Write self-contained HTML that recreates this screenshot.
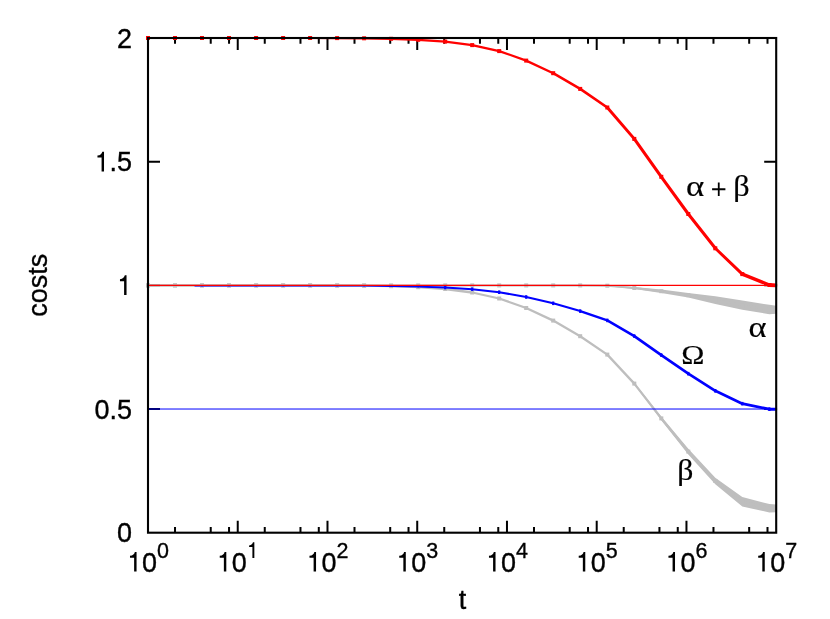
<!DOCTYPE html>
<html><head><meta charset="utf-8"><title>costs</title>
<style>html,body{margin:0;padding:0;background:#fff}svg{display:block;will-change:transform;opacity:0.999}</style>
</head><body>
<svg width="830" height="619" viewBox="0 0 830 619">
<rect width="830" height="619" fill="#fff"/>
<path d="M175.02 532.7v-5.8M175.02 38.0v5.8M210.73 532.7v-5.8M210.73 38.0v5.8M229.05 532.7v-5.8M229.05 38.0v5.8M237.74 532.7v-12M237.74 38.0v12M264.76 532.7v-5.8M264.76 38.0v5.8M300.47 532.7v-5.8M300.47 38.0v5.8M318.79 532.7v-5.8M318.79 38.0v5.8M327.49 532.7v-12M327.49 38.0v12M354.50 532.7v-5.8M354.50 38.0v5.8M390.21 532.7v-5.8M390.21 38.0v5.8M408.53 532.7v-5.8M408.53 38.0v5.8M417.23 532.7v-12M417.23 38.0v12M444.24 532.7v-5.8M444.24 38.0v5.8M479.96 532.7v-5.8M479.96 38.0v5.8M498.27 532.7v-5.8M498.27 38.0v5.8M506.97 532.7v-12M506.97 38.0v12M533.99 532.7v-5.8M533.99 38.0v5.8M569.70 532.7v-5.8M569.70 38.0v5.8M588.02 532.7v-5.8M588.02 38.0v5.8M596.71 532.7v-12M596.71 38.0v12M623.73 532.7v-5.8M623.73 38.0v5.8M659.44 532.7v-5.8M659.44 38.0v5.8M677.76 532.7v-5.8M677.76 38.0v5.8M686.46 532.7v-12M686.46 38.0v12M713.47 532.7v-5.8M713.47 38.0v5.8M749.18 532.7v-5.8M749.18 38.0v5.8M767.50 532.7v-5.8M767.50 38.0v5.8M148.0 409.03h12M776.2 409.03h-12M148.0 285.35h12M776.2 285.35h-12M148.0 161.68h12M776.2 161.68h-12" stroke="#000" stroke-width="2" fill="none"/>
<clipPath id="cp"><rect x="145" y="30" width="632.2" height="510"/></clipPath><g clip-path="url(#cp)">
<polygon points="148.0,285.4 175.0,285.4 202.0,285.4 229.0,285.4 256.1,285.4 283.1,285.4 310.1,285.4 337.1,285.4 364.1,285.4 391.1,285.4 418.2,285.4 445.2,285.4 472.2,285.4 499.2,285.4 526.2,285.4 553.2,285.4 580.2,285.4 607.3,285.2 634.3,287.0 661.3,289.4 688.3,292.9 715.3,296.2 742.3,300.6 769.4,304.8 776.2,305.8 776.2,313.8 769.4,314.2 742.3,309.8 715.3,303.9 688.3,297.5 661.3,293.0 634.3,289.0 607.3,286.2 580.2,285.4 553.2,285.4 526.2,285.4 499.2,285.4 472.2,285.4 445.2,285.4 418.2,285.4 391.1,285.4 364.1,285.4 337.1,285.4 310.1,285.4 283.1,285.4 256.1,285.4 229.0,285.4 202.0,285.4 175.0,285.4 148.0,285.4" fill="#bebebe"/>
<polyline points="148.0,285.4 175.0,285.4 202.0,285.4 229.0,285.4 256.1,285.4 283.1,285.4 310.1,285.4 337.1,285.4 364.1,285.4 391.1,285.4 418.2,285.4 445.2,285.4 472.2,285.4 499.2,285.4 526.2,285.4 553.2,285.4 580.2,285.4 607.3,285.7 634.3,288.0 661.3,291.2 688.3,295.2 715.3,300.1 742.3,305.2 769.4,309.5 776.2,309.8" fill="none" stroke="#bebebe" stroke-width="2" stroke-linejoin="round"/>
<rect x="146.0" y="283.4" width="4.0" height="4.0" fill="#bebebe"/><rect x="173.0" y="283.4" width="4.0" height="4.0" fill="#bebebe"/><rect x="200.0" y="283.4" width="4.0" height="4.0" fill="#bebebe"/><rect x="227.0" y="283.4" width="4.0" height="4.0" fill="#bebebe"/><rect x="254.1" y="283.4" width="4.0" height="4.0" fill="#bebebe"/><rect x="281.1" y="283.4" width="4.0" height="4.0" fill="#bebebe"/><rect x="308.1" y="283.4" width="4.0" height="4.0" fill="#bebebe"/><rect x="335.1" y="283.4" width="4.0" height="4.0" fill="#bebebe"/><rect x="362.1" y="283.4" width="4.0" height="4.0" fill="#bebebe"/><rect x="389.1" y="283.4" width="4.0" height="4.0" fill="#bebebe"/><rect x="416.2" y="283.4" width="4.0" height="4.0" fill="#bebebe"/><rect x="443.2" y="283.4" width="4.0" height="4.0" fill="#bebebe"/><rect x="470.2" y="283.4" width="4.0" height="4.0" fill="#bebebe"/><rect x="497.2" y="283.4" width="4.0" height="4.0" fill="#bebebe"/><rect x="524.2" y="283.4" width="4.0" height="4.0" fill="#bebebe"/><rect x="551.2" y="283.4" width="4.0" height="4.0" fill="#bebebe"/><rect x="578.2" y="283.4" width="4.0" height="4.0" fill="#bebebe"/><rect x="605.3" y="283.7" width="4.0" height="4.0" fill="#bebebe"/><rect x="632.3" y="286.0" width="4.0" height="4.0" fill="#bebebe"/><rect x="659.3" y="289.2" width="4.0" height="4.0" fill="#bebebe"/><rect x="686.3" y="293.2" width="4.0" height="4.0" fill="#bebebe"/><rect x="713.3" y="298.1" width="4.0" height="4.0" fill="#bebebe"/><rect x="740.3" y="303.2" width="4.0" height="4.0" fill="#bebebe"/><rect x="767.4" y="307.5" width="4.0" height="4.0" fill="#bebebe"/>
<polygon points="148.0,285.4 175.0,285.4 202.0,285.4 229.0,285.4 256.1,285.4 283.1,285.4 310.1,285.4 337.1,285.5 364.1,285.7 391.1,286.2 418.2,287.2 445.2,289.0 472.2,292.5 499.2,298.5 526.2,308.0 553.2,320.6 580.2,336.2 607.3,354.6 634.3,382.6 661.3,416.6 688.3,448.7 715.3,477.8 742.3,496.9 769.4,504.1 776.2,504.4 776.2,512.2 769.4,512.5 742.3,506.5 715.3,484.2 688.3,454.4 661.3,420.2 634.3,384.6 607.3,354.6 580.2,336.2 553.2,320.6 526.2,308.0 499.2,298.5 472.2,292.5 445.2,289.0 418.2,287.2 391.1,286.2 364.1,285.7 337.1,285.5 310.1,285.4 283.1,285.4 256.1,285.4 229.0,285.4 202.0,285.4 175.0,285.4 148.0,285.4" fill="#bebebe"/>
<polyline points="148.0,285.4 175.0,285.4 202.0,285.4 229.0,285.4 256.1,285.4 283.1,285.4 310.1,285.4 337.1,285.5 364.1,285.7 391.1,286.2 418.2,287.2 445.2,289.0 472.2,292.5 499.2,298.5 526.2,308.0 553.2,320.6 580.2,336.2 607.3,354.6 634.3,383.6 661.3,418.4 688.3,451.6 715.3,481.0 742.3,501.7 769.4,508.2 776.2,508.3" fill="none" stroke="#bebebe" stroke-width="2.3" stroke-linejoin="round"/>
<rect x="146.0" y="283.4" width="4.0" height="4.0" fill="#bebebe"/><rect x="173.0" y="283.4" width="4.0" height="4.0" fill="#bebebe"/><rect x="200.0" y="283.4" width="4.0" height="4.0" fill="#bebebe"/><rect x="227.0" y="283.4" width="4.0" height="4.0" fill="#bebebe"/><rect x="254.1" y="283.4" width="4.0" height="4.0" fill="#bebebe"/><rect x="281.1" y="283.4" width="4.0" height="4.0" fill="#bebebe"/><rect x="308.1" y="283.4" width="4.0" height="4.0" fill="#bebebe"/><rect x="335.1" y="283.5" width="4.0" height="4.0" fill="#bebebe"/><rect x="362.1" y="283.7" width="4.0" height="4.0" fill="#bebebe"/><rect x="389.1" y="284.2" width="4.0" height="4.0" fill="#bebebe"/><rect x="416.2" y="285.2" width="4.0" height="4.0" fill="#bebebe"/><rect x="443.2" y="287.0" width="4.0" height="4.0" fill="#bebebe"/><rect x="470.2" y="290.5" width="4.0" height="4.0" fill="#bebebe"/><rect x="497.2" y="296.5" width="4.0" height="4.0" fill="#bebebe"/><rect x="524.2" y="306.0" width="4.0" height="4.0" fill="#bebebe"/><rect x="551.2" y="318.6" width="4.0" height="4.0" fill="#bebebe"/><rect x="578.2" y="334.2" width="4.0" height="4.0" fill="#bebebe"/><rect x="605.3" y="352.6" width="4.0" height="4.0" fill="#bebebe"/><rect x="632.3" y="381.6" width="4.0" height="4.0" fill="#bebebe"/><rect x="659.3" y="416.4" width="4.0" height="4.0" fill="#bebebe"/><rect x="686.3" y="449.6" width="4.0" height="4.0" fill="#bebebe"/><rect x="713.3" y="479.0" width="4.0" height="4.0" fill="#bebebe"/><rect x="740.3" y="499.7" width="4.0" height="4.0" fill="#bebebe"/><rect x="767.4" y="506.2" width="4.0" height="4.0" fill="#bebebe"/>
<line x1="195.0" y1="285.7" x2="202.0" y2="285.7" stroke="#0000ff" stroke-width="1.50" stroke-linecap="round"/>
<line x1="202.0" y1="285.7" x2="229.0" y2="285.7" stroke="#0000ff" stroke-width="1.50" stroke-linecap="round"/>
<line x1="229.0" y1="285.7" x2="256.1" y2="285.7" stroke="#0000ff" stroke-width="1.50" stroke-linecap="round"/>
<line x1="256.1" y1="285.7" x2="283.1" y2="285.7" stroke="#0000ff" stroke-width="1.50" stroke-linecap="round"/>
<line x1="283.1" y1="285.7" x2="310.1" y2="285.7" stroke="#0000ff" stroke-width="1.50" stroke-linecap="round"/>
<line x1="310.1" y1="285.7" x2="337.1" y2="285.7" stroke="#0000ff" stroke-width="1.50" stroke-linecap="round"/>
<line x1="337.1" y1="285.7" x2="364.1" y2="285.8" stroke="#0000ff" stroke-width="1.50" stroke-linecap="round"/>
<line x1="364.1" y1="285.8" x2="391.1" y2="286.1" stroke="#0000ff" stroke-width="1.60" stroke-linecap="round"/>
<line x1="391.1" y1="286.1" x2="418.2" y2="286.6" stroke="#0000ff" stroke-width="1.80" stroke-linecap="round"/>
<line x1="418.2" y1="286.6" x2="445.2" y2="287.5" stroke="#0000ff" stroke-width="1.95" stroke-linecap="round"/>
<line x1="445.2" y1="287.5" x2="472.2" y2="289.2" stroke="#0000ff" stroke-width="2.00" stroke-linecap="round"/>
<line x1="472.2" y1="289.2" x2="499.2" y2="292.2" stroke="#0000ff" stroke-width="2.00" stroke-linecap="round"/>
<line x1="499.2" y1="292.2" x2="526.2" y2="297.0" stroke="#0000ff" stroke-width="2.00" stroke-linecap="round"/>
<line x1="526.2" y1="297.0" x2="553.2" y2="303.3" stroke="#0000ff" stroke-width="2.00" stroke-linecap="round"/>
<line x1="553.2" y1="303.3" x2="580.2" y2="311.1" stroke="#0000ff" stroke-width="2.10" stroke-linecap="round"/>
<line x1="580.2" y1="311.1" x2="607.3" y2="320.4" stroke="#0000ff" stroke-width="2.30" stroke-linecap="round"/>
<line x1="607.3" y1="320.4" x2="634.3" y2="336.1" stroke="#0000ff" stroke-width="2.55" stroke-linecap="round"/>
<line x1="634.3" y1="336.1" x2="661.3" y2="355.1" stroke="#0000ff" stroke-width="2.70" stroke-linecap="round"/>
<line x1="661.3" y1="355.1" x2="688.3" y2="373.7" stroke="#0000ff" stroke-width="2.70" stroke-linecap="round"/>
<line x1="688.3" y1="373.7" x2="715.3" y2="390.8" stroke="#0000ff" stroke-width="2.70" stroke-linecap="round"/>
<line x1="715.3" y1="390.8" x2="742.3" y2="403.7" stroke="#0000ff" stroke-width="2.65" stroke-linecap="round"/>
<line x1="742.3" y1="403.7" x2="769.4" y2="409.2" stroke="#0000ff" stroke-width="2.75" stroke-linecap="round"/>
<line x1="769.4" y1="409.2" x2="776.2" y2="409.3" stroke="#0000ff" stroke-width="2.90" stroke-linecap="round"/>
<rect x="444.1" y="285.7" width="2.2" height="3.6" fill="#0000ff"/><rect x="471.1" y="287.4" width="2.2" height="3.6" fill="#0000ff"/><rect x="498.1" y="290.4" width="2.2" height="3.6" fill="#0000ff"/><rect x="525.1" y="295.2" width="2.2" height="3.6" fill="#0000ff"/><rect x="552.1" y="301.5" width="2.2" height="3.6" fill="#0000ff"/><rect x="579.1" y="309.3" width="2.2" height="3.6" fill="#0000ff"/><rect x="606.2" y="318.6" width="2.2" height="3.6" fill="#0000ff"/><rect x="633.2" y="334.3" width="2.2" height="3.6" fill="#0000ff"/><rect x="660.2" y="353.3" width="2.2" height="3.6" fill="#0000ff"/><rect x="687.2" y="371.9" width="2.2" height="3.6" fill="#0000ff"/><rect x="714.2" y="389.0" width="2.2" height="3.6" fill="#0000ff"/><rect x="741.2" y="401.9" width="2.2" height="3.6" fill="#0000ff"/><rect x="768.3" y="407.4" width="2.2" height="3.6" fill="#0000ff"/>
<line x1="148.0" y1="409.03" x2="776.2" y2="409.03" stroke="#0000ff" stroke-width="1.0"/>
<line x1="148.0" y1="285.35" x2="776.2" y2="285.35" stroke="#ff0000" stroke-width="1.25"/>
<line x1="148.0" y1="38.0" x2="175.0" y2="38.0" stroke="#ff0000" stroke-width="2.20" stroke-linecap="round"/>
<line x1="175.0" y1="38.0" x2="202.0" y2="38.0" stroke="#ff0000" stroke-width="2.20" stroke-linecap="round"/>
<line x1="202.0" y1="38.0" x2="229.0" y2="38.0" stroke="#ff0000" stroke-width="2.20" stroke-linecap="round"/>
<line x1="229.0" y1="38.0" x2="256.1" y2="38.0" stroke="#ff0000" stroke-width="2.20" stroke-linecap="round"/>
<line x1="256.1" y1="38.0" x2="283.1" y2="38.0" stroke="#ff0000" stroke-width="2.20" stroke-linecap="round"/>
<line x1="283.1" y1="38.0" x2="310.1" y2="38.0" stroke="#ff0000" stroke-width="2.20" stroke-linecap="round"/>
<line x1="310.1" y1="38.0" x2="337.1" y2="38.1" stroke="#ff0000" stroke-width="2.20" stroke-linecap="round"/>
<line x1="337.1" y1="38.1" x2="364.1" y2="38.3" stroke="#ff0000" stroke-width="2.20" stroke-linecap="round"/>
<line x1="364.1" y1="38.3" x2="391.1" y2="38.8" stroke="#ff0000" stroke-width="2.20" stroke-linecap="round"/>
<line x1="391.1" y1="38.8" x2="418.2" y2="39.8" stroke="#ff0000" stroke-width="2.20" stroke-linecap="round"/>
<line x1="418.2" y1="39.8" x2="445.2" y2="41.6" stroke="#ff0000" stroke-width="2.20" stroke-linecap="round"/>
<line x1="445.2" y1="41.6" x2="472.2" y2="45.1" stroke="#ff0000" stroke-width="2.20" stroke-linecap="round"/>
<line x1="472.2" y1="45.1" x2="499.2" y2="51.1" stroke="#ff0000" stroke-width="2.20" stroke-linecap="round"/>
<line x1="499.2" y1="51.1" x2="526.2" y2="60.6" stroke="#ff0000" stroke-width="2.20" stroke-linecap="round"/>
<line x1="526.2" y1="60.6" x2="553.2" y2="73.2" stroke="#ff0000" stroke-width="2.30" stroke-linecap="round"/>
<line x1="553.2" y1="73.2" x2="580.2" y2="88.9" stroke="#ff0000" stroke-width="2.50" stroke-linecap="round"/>
<line x1="580.2" y1="88.9" x2="607.3" y2="107.5" stroke="#ff0000" stroke-width="2.70" stroke-linecap="round"/>
<line x1="607.3" y1="107.5" x2="634.3" y2="138.9" stroke="#ff0000" stroke-width="2.95" stroke-linecap="round"/>
<line x1="634.3" y1="138.9" x2="661.3" y2="176.8" stroke="#ff0000" stroke-width="3.10" stroke-linecap="round"/>
<line x1="661.3" y1="176.8" x2="688.3" y2="214.0" stroke="#ff0000" stroke-width="3.10" stroke-linecap="round"/>
<line x1="688.3" y1="214.0" x2="715.3" y2="248.3" stroke="#ff0000" stroke-width="3.05" stroke-linecap="round"/>
<line x1="715.3" y1="248.3" x2="742.3" y2="274.1" stroke="#ff0000" stroke-width="2.95" stroke-linecap="round"/>
<line x1="742.3" y1="274.1" x2="769.4" y2="285.0" stroke="#ff0000" stroke-width="3.35" stroke-linecap="round"/>
<line x1="769.4" y1="285.0" x2="776.2" y2="285.3" stroke="#ff0000" stroke-width="3.80" stroke-linecap="round"/>
<rect x="146.0" y="36.0" width="4.0" height="4.0" fill="#ff0000"/><rect x="173.0" y="36.0" width="4.0" height="4.0" fill="#ff0000"/><rect x="200.0" y="36.0" width="4.0" height="4.0" fill="#ff0000"/><rect x="227.0" y="36.0" width="4.0" height="4.0" fill="#ff0000"/><rect x="254.1" y="36.0" width="4.0" height="4.0" fill="#ff0000"/><rect x="281.1" y="36.0" width="4.0" height="4.0" fill="#ff0000"/><rect x="308.1" y="36.0" width="4.0" height="4.0" fill="#ff0000"/><rect x="335.1" y="36.1" width="4.0" height="4.0" fill="#ff0000"/><rect x="362.1" y="36.3" width="4.0" height="4.0" fill="#ff0000"/><rect x="389.1" y="36.8" width="4.0" height="4.0" fill="#ff0000"/><rect x="416.2" y="37.8" width="4.0" height="4.0" fill="#ff0000"/><rect x="443.2" y="39.6" width="4.0" height="4.0" fill="#ff0000"/><rect x="470.2" y="43.1" width="4.0" height="4.0" fill="#ff0000"/><rect x="497.2" y="49.1" width="4.0" height="4.0" fill="#ff0000"/><rect x="524.2" y="58.6" width="4.0" height="4.0" fill="#ff0000"/><rect x="551.2" y="71.2" width="4.0" height="4.0" fill="#ff0000"/><rect x="578.2" y="86.9" width="4.0" height="4.0" fill="#ff0000"/><rect x="605.3" y="105.5" width="4.0" height="4.0" fill="#ff0000"/><rect x="632.3" y="136.9" width="4.0" height="4.0" fill="#ff0000"/><rect x="659.3" y="174.8" width="4.0" height="4.0" fill="#ff0000"/><rect x="686.3" y="212.0" width="4.0" height="4.0" fill="#ff0000"/><rect x="713.3" y="246.3" width="4.0" height="4.0" fill="#ff0000"/><rect x="740.3" y="272.1" width="4.0" height="4.0" fill="#ff0000"/><rect x="767.4" y="283.0" width="4.0" height="4.0" fill="#ff0000"/>
</g>
<rect x="148.0" y="38.0" width="628.2" height="494.7" fill="none" stroke="#000" stroke-width="2.1"/>
<g font-family="Liberation Sans, sans-serif" fill="#000">
<text transform="translate(116.99,542.40) scale(1,1.055)" font-size="27.0" stroke="#000" stroke-width="0.35">0</text>
<text transform="translate(94.47,418.73) scale(1,1.055)" font-size="27.0" stroke="#000" stroke-width="0.35">0</text><text transform="translate(109.48,418.73) scale(1,1.055)" font-size="27.0" stroke="#000" stroke-width="0.35">.</text><text transform="translate(116.99,418.73) scale(1,1.055)" font-size="27.0" stroke="#000" stroke-width="0.35">5</text>
<path transform="translate(116.79,295.05) scale(0.02700,-0.02781)" d="M271 0L361 0L361 709L298 709C282 640 230 580 118 570L118 500L271 500Z"/>
<path transform="translate(94.27,171.38) scale(0.02700,-0.02781)" d="M271 0L361 0L361 709L298 709C282 640 230 580 118 570L118 500L271 500Z"/><text transform="translate(109.48,171.38) scale(1,1.055)" font-size="27.0" stroke="#000" stroke-width="0.35">.</text><text transform="translate(116.99,171.38) scale(1,1.055)" font-size="27.0" stroke="#000" stroke-width="0.35">5</text>
<text transform="translate(116.99,47.70) scale(1,1.055)" font-size="27.0" stroke="#000" stroke-width="0.35">2</text>
<path transform="translate(126.81,571.60) scale(0.02700,-0.02781)" d="M271 0L361 0L361 709L298 709C282 640 230 580 118 570L118 500L271 500Z"/><text transform="translate(142.02,571.60) scale(1,1.055)" font-size="27.0" stroke="#000" stroke-width="0.35">0</text>
<text transform="translate(157.03,558.00) scale(1,1.055)" font-size="21.5" stroke="#000" stroke-width="0.35">0</text>
<path transform="translate(216.55,571.60) scale(0.02700,-0.02781)" d="M271 0L361 0L361 709L298 709C282 640 230 580 118 570L118 500L271 500Z"/><text transform="translate(231.77,571.60) scale(1,1.055)" font-size="27.0" stroke="#000" stroke-width="0.35">0</text>
<path transform="translate(246.58,558.00) scale(0.02150,-0.02214)" d="M271 0L361 0L361 709L298 709C282 640 230 580 118 570L118 500L271 500Z"/>
<path transform="translate(306.30,571.60) scale(0.02700,-0.02781)" d="M271 0L361 0L361 709L298 709C282 640 230 580 118 570L118 500L271 500Z"/><text transform="translate(321.51,571.60) scale(1,1.055)" font-size="27.0" stroke="#000" stroke-width="0.35">0</text>
<text transform="translate(336.52,558.00) scale(1,1.055)" font-size="21.5" stroke="#000" stroke-width="0.35">2</text>
<path transform="translate(396.04,571.60) scale(0.02700,-0.02781)" d="M271 0L361 0L361 709L298 709C282 640 230 580 118 570L118 500L271 500Z"/><text transform="translate(411.25,571.60) scale(1,1.055)" font-size="27.0" stroke="#000" stroke-width="0.35">0</text>
<text transform="translate(426.26,558.00) scale(1,1.055)" font-size="21.5" stroke="#000" stroke-width="0.35">3</text>
<path transform="translate(485.78,571.60) scale(0.02700,-0.02781)" d="M271 0L361 0L361 709L298 709C282 640 230 580 118 570L118 500L271 500Z"/><text transform="translate(500.99,571.60) scale(1,1.055)" font-size="27.0" stroke="#000" stroke-width="0.35">0</text>
<text transform="translate(516.01,558.00) scale(1,1.055)" font-size="21.5" stroke="#000" stroke-width="0.35">4</text>
<path transform="translate(575.53,571.60) scale(0.02700,-0.02781)" d="M271 0L361 0L361 709L298 709C282 640 230 580 118 570L118 500L271 500Z"/><text transform="translate(590.74,571.60) scale(1,1.055)" font-size="27.0" stroke="#000" stroke-width="0.35">0</text>
<text transform="translate(605.75,558.00) scale(1,1.055)" font-size="21.5" stroke="#000" stroke-width="0.35">5</text>
<path transform="translate(665.27,571.60) scale(0.02700,-0.02781)" d="M271 0L361 0L361 709L298 709C282 640 230 580 118 570L118 500L271 500Z"/><text transform="translate(680.48,571.60) scale(1,1.055)" font-size="27.0" stroke="#000" stroke-width="0.35">0</text>
<text transform="translate(695.49,558.00) scale(1,1.055)" font-size="21.5" stroke="#000" stroke-width="0.35">6</text>
<path transform="translate(755.01,571.60) scale(0.02700,-0.02781)" d="M271 0L361 0L361 709L298 709C282 640 230 580 118 570L118 500L271 500Z"/><text transform="translate(770.22,571.60) scale(1,1.055)" font-size="27.0" stroke="#000" stroke-width="0.35">0</text>
<text transform="translate(785.24,558.00) scale(1,1.055)" font-size="21.5" stroke="#000" stroke-width="0.35">7</text>
<text transform="translate(458.65,609.40) scale(1,1.000)" font-size="27.0" stroke="#000" stroke-width="0.35">t</text>
<g transform="translate(46.6,285.2) rotate(-90)"><text transform="translate(-31.51,0.00) scale(1,1.000)" font-size="27.0" stroke="#000" stroke-width="0.35">c</text><text transform="translate(-18.01,0.00) scale(1,1.000)" font-size="27.0" stroke="#000" stroke-width="0.35">o</text><text transform="translate(-3.00,0.00) scale(1,1.000)" font-size="27.0" stroke="#000" stroke-width="0.35">s</text><text transform="translate(10.50,0.00) scale(1,1.000)" font-size="27.0" stroke="#000" stroke-width="0.35">t</text><text transform="translate(18.01,0.00) scale(1,1.000)" font-size="27.0" stroke="#000" stroke-width="0.35">s</text></g>
</g>
<g font-family="Liberation Serif, serif" fill="#000" stroke="#000" stroke-width="0.6">
<text transform="translate(686.01,195.60) scale(0.3478,0.2990)" x="0" y="0" font-size="100">α</text>
<text transform="translate(733.30,195.58) scale(0.3225,0.2912)" x="0" y="0" font-size="100">β</text>
<text transform="translate(748.53,336.60) scale(0.3435,0.2979)" x="0" y="0" font-size="100">α</text>
<text transform="translate(681.34,363.70) scale(0.3125,0.2818)" x="0" y="0" font-size="100">Ω</text>
<text transform="translate(677.24,479.87) scale(0.3175,0.2918)" x="0" y="0" font-size="100">β</text>
</g>
<path d="M712.1 189.25h13.3M718.75 182.6v13.3" stroke="#000" stroke-width="1.8" fill="none"/>
</svg>
</body></html>
